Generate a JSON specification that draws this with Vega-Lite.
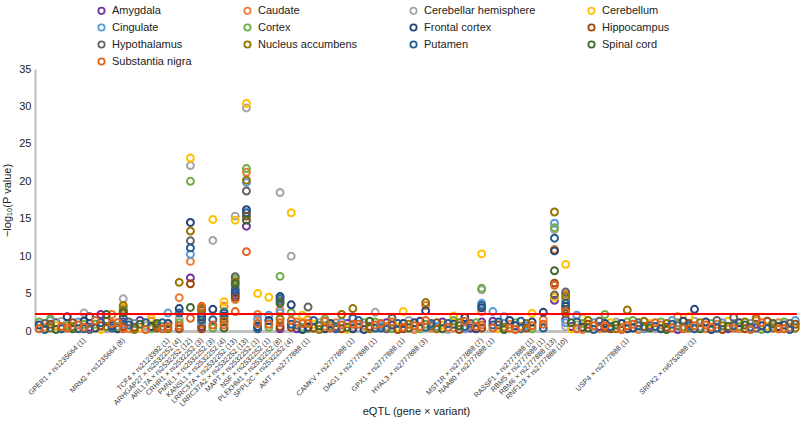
{
"$schema": "https://vega.github.io/schema/vega-lite/v6.json",
"width": 762, "height": 262,
"autosize": {"type": "none"},
"padding": {"left": 35, "top": 69, "right": 3, "bottom": 97},
"config": {"view": {"stroke": null}, "font": "Liberation Sans"},
"datasets": {
"tissues": [
{"c":"am","name":"Amygdala","k":1},{"c":"ca","name":"Caudate","k":2},{"c":"ch","name":"Cerebellar hemisphere","k":3},{"c":"ce","name":"Cerebellum","k":4},{"c":"ci","name":"Cingulate","k":5},{"c":"co","name":"Cortex","k":6},{"c":"fc","name":"Frontal cortex","k":7},{"c":"hi","name":"Hippocampus","k":8},{"c":"hy","name":"Hypothalamus","k":9},{"c":"na","name":"Nucleus accumbens","k":10},{"c":"pu","name":"Putamen","k":11},{"c":"sc","name":"Spinal cord","k":12},{"c":"sn","name":"Substantia nigra","k":13}
],
"thr": [{"v": 2.27}],
"pts": [
{"i":9,"c":"ch","v":2.4},{"i":9,"c":"fc","v":1.3},{"i":9,"c":"co","v":0.9},{"i":9,"c":"sn","v":0.5},{"i":9,"c":"pu","v":0.3},
{"i":16,"c":"ch","v":4.3},{"i":16,"c":"na","v":3.4},{"i":16,"c":"ce","v":3.2},{"i":16,"c":"ca","v":3.0},{"i":16,"c":"co","v":2.8},{"i":16,"c":"hy","v":2.65},{"i":16,"c":"fc","v":2.5},{"i":16,"c":"sc","v":2.4},{"i":16,"c":"pu","v":1.8},{"i":16,"c":"am","v":1.2},{"i":16,"c":"ci","v":0.9},{"i":16,"c":"hi","v":0.6},{"i":16,"c":"sn","v":0.3},
{"i":24,"c":"ci","v":2.4},{"i":24,"c":"fc","v":1.0},{"i":24,"c":"sn","v":0.6},{"i":24,"c":"na","v":0.3},
{"i":26,"c":"na","v":6.5},{"i":26,"c":"ca","v":4.45},{"i":26,"c":"fc","v":3.0},{"i":26,"c":"pu","v":2.4},{"i":26,"c":"ch","v":1.6},{"i":26,"c":"co","v":1.1},{"i":26,"c":"sn","v":0.7},{"i":26,"c":"hi","v":0.3},
{"i":28,"c":"ce","v":23.1},{"i":28,"c":"ch","v":22.1},{"i":28,"c":"co","v":20.0},{"i":28,"c":"fc","v":14.5},{"i":28,"c":"na","v":13.35},{"i":28,"c":"hy","v":12.05},{"i":28,"c":"pu","v":11.1},{"i":28,"c":"ci","v":10.25},{"i":28,"c":"ca","v":9.3},{"i":28,"c":"am","v":7.1},{"i":28,"c":"hi","v":6.3},{"i":28,"c":"sc","v":3.15},{"i":28,"c":"sn","v":1.7},
{"i":30,"c":"sn","v":3.3},{"i":30,"c":"na","v":3.0},{"i":30,"c":"hy","v":2.75},{"i":30,"c":"co","v":2.2},{"i":30,"c":"fc","v":1.9},{"i":30,"c":"pu","v":1.5},{"i":30,"c":"ci","v":1.2},{"i":30,"c":"ca","v":0.9},{"i":30,"c":"am","v":0.6},{"i":30,"c":"hi","v":0.3},
{"i":32,"c":"ce","v":14.9},{"i":32,"c":"ch","v":12.1},{"i":32,"c":"fc","v":2.9},{"i":32,"c":"pu","v":1.5},{"i":32,"c":"sn","v":0.8},{"i":32,"c":"co","v":0.4},
{"i":34,"c":"ce","v":3.9},{"i":34,"c":"ca","v":3.3},{"i":34,"c":"co","v":2.6},{"i":34,"c":"pu","v":2.4},{"i":34,"c":"fc","v":2.0},{"i":34,"c":"na","v":1.6},{"i":34,"c":"hi","v":1.2},{"i":34,"c":"sn","v":0.8},{"i":34,"c":"sc","v":0.4},
{"i":36,"c":"ch","v":15.35},{"i":36,"c":"ce","v":14.8},{"i":36,"c":"hy","v":7.25},{"i":36,"c":"co","v":6.95},{"i":36,"c":"na","v":6.6},{"i":36,"c":"sc","v":6.3},{"i":36,"c":"ci","v":5.9},{"i":36,"c":"pu","v":5.5},{"i":36,"c":"fc","v":5.15},{"i":36,"c":"am","v":4.8},{"i":36,"c":"hi","v":4.5},{"i":36,"c":"ca","v":4.2},{"i":36,"c":"sn","v":2.6},
{"i":38,"c":"ce","v":30.4},{"i":38,"c":"ch","v":29.8},{"i":38,"c":"co","v":21.7},{"i":38,"c":"ca","v":21.2},{"i":38,"c":"na","v":20.15},{"i":38,"c":"ci","v":19.85},{"i":38,"c":"hy","v":18.7},{"i":38,"c":"fc","v":16.2},{"i":38,"c":"pu","v":15.8},{"i":38,"c":"hi","v":15.35},{"i":38,"c":"sc","v":14.8},{"i":38,"c":"am","v":14.0},{"i":38,"c":"sn","v":10.6},
{"i":40,"c":"ce","v":5.0},{"i":40,"c":"ca","v":2.2},{"i":40,"c":"ci","v":1.6},{"i":40,"c":"sn","v":1.0},{"i":40,"c":"fc","v":0.6},{"i":40,"c":"pu","v":0.3},
{"i":42,"c":"ce","v":4.5},{"i":42,"c":"ci","v":2.1},{"i":42,"c":"fc","v":1.4},{"i":42,"c":"sn","v":0.9},{"i":42,"c":"co","v":0.5},
{"i":44,"c":"ch","v":18.5},{"i":44,"c":"co","v":7.3},{"i":44,"c":"fc","v":4.6},{"i":44,"c":"pu","v":4.3},{"i":44,"c":"hy","v":4.0},{"i":44,"c":"sc","v":3.7},{"i":44,"c":"ca","v":2.8},{"i":44,"c":"ci","v":2.45},{"i":44,"c":"na","v":1.6},{"i":44,"c":"sn","v":1.1},{"i":44,"c":"hi","v":0.6},{"i":44,"c":"am","v":0.3},
{"i":46,"c":"ce","v":15.8},{"i":46,"c":"ch","v":10.0},{"i":46,"c":"fc","v":3.5},{"i":46,"c":"co","v":2.45},{"i":46,"c":"sn","v":1.4},{"i":46,"c":"pu","v":0.9},{"i":46,"c":"hi","v":0.5},
{"i":49,"c":"hy","v":3.2},{"i":49,"c":"ca","v":1.5},{"i":49,"c":"sn","v":1.0},{"i":49,"c":"fc","v":0.5},{"i":49,"c":"co","v":0.3},
{"i":57,"c":"na","v":3.0},{"i":57,"c":"pu","v":1.7},{"i":57,"c":"sn","v":0.9},{"i":57,"c":"ch","v":0.5},{"i":57,"c":"fc","v":0.3},
{"i":61,"c":"ch","v":2.5},{"i":61,"c":"co","v":1.2},{"i":61,"c":"sn","v":0.8},{"i":61,"c":"pu","v":0.4},
{"i":66,"c":"ce","v":2.6},{"i":66,"c":"fc","v":1.0},{"i":66,"c":"sn","v":0.5},{"i":66,"c":"hi","v":0.3},
{"i":70,"c":"na","v":3.8},{"i":70,"c":"ca","v":3.4},{"i":70,"c":"fc","v":2.7},{"i":70,"c":"sn","v":1.4},{"i":70,"c":"co","v":0.9},{"i":70,"c":"pu","v":0.5},
{"i":80,"c":"ce","v":10.3},{"i":80,"c":"co","v":5.7},{"i":80,"c":"ch","v":5.5},{"i":80,"c":"ci","v":3.7},{"i":80,"c":"pu","v":3.4},{"i":80,"c":"fc","v":3.1},{"i":80,"c":"ca","v":2.6},{"i":80,"c":"am","v":1.2},{"i":80,"c":"sn","v":0.8},{"i":80,"c":"hi","v":0.4},
{"i":82,"c":"ci","v":2.6},{"i":82,"c":"am","v":1.3},{"i":82,"c":"pu","v":0.8},{"i":82,"c":"sn","v":0.4},
{"i":89,"c":"ce","v":2.35},{"i":89,"c":"fc","v":1.2},{"i":89,"c":"sn","v":0.7},{"i":89,"c":"co","v":0.3},
{"i":91,"c":"fc","v":2.5},{"i":91,"c":"ca","v":1.5},{"i":91,"c":"sn","v":0.9},{"i":91,"c":"pu","v":0.4},
{"i":93,"c":"na","v":15.9},{"i":93,"c":"ci","v":14.4},{"i":93,"c":"co","v":13.8},{"i":93,"c":"ch","v":13.55},{"i":93,"c":"pu","v":12.4},{"i":93,"c":"ca","v":10.9},{"i":93,"c":"fc","v":10.7},{"i":93,"c":"sc","v":8.05},{"i":93,"c":"hi","v":6.4},{"i":93,"c":"sn","v":6.1},{"i":93,"c":"hy","v":4.8},{"i":93,"c":"ce","v":4.5},{"i":93,"c":"am","v":4.1},
{"i":95,"c":"ce","v":8.9},{"i":95,"c":"hy","v":5.2},{"i":95,"c":"ca","v":4.9},{"i":95,"c":"na","v":4.6},{"i":95,"c":"co","v":4.2},{"i":95,"c":"pu","v":3.7},{"i":95,"c":"fc","v":3.3},{"i":95,"c":"hi","v":2.9},{"i":95,"c":"sn","v":2.5},{"i":95,"c":"sc","v":2.35},{"i":95,"c":"am","v":1.5},{"i":95,"c":"ci","v":1.1},{"i":95,"c":"ch","v":0.6},
{"i":106,"c":"na","v":2.8},{"i":106,"c":"co","v":1.2},{"i":106,"c":"sn","v":0.7},{"i":106,"c":"fc","v":0.3},
{"i":118,"c":"fc","v":2.9},{"i":118,"c":"ch","v":1.3},{"i":118,"c":"sn","v":0.7},{"i":118,"c":"pu","v":0.3},
{"i":1,"c":"sn","v":0.3},{"i":1,"c":"fc","v":0.8},{"i":1,"c":"co","v":1.2},
{"i":2,"c":"ca","v":0.5},{"i":2,"c":"pu","v":0.2},{"i":2,"c":"hy","v":1.0},
{"i":3,"c":"hi","v":0.9},{"i":3,"c":"na","v":0.4},{"i":3,"c":"ci","v":1.4},{"i":3,"c":"co","v":1.6},
{"i":4,"c":"sc","v":0.2},{"i":4,"c":"ce","v":0.7},{"i":4,"c":"am","v":1.1},
{"i":5,"c":"sn","v":0.6},{"i":5,"c":"ch","v":1.3},{"i":5,"c":"pu","v":0.3},
{"i":6,"c":"sn","v":0.4},{"i":6,"c":"ca","v":1.0},{"i":6,"c":"co","v":0.7},{"i":6,"c":"fc","v":1.9},
{"i":7,"c":"hi","v":1.1},{"i":7,"c":"sc","v":0.3},{"i":7,"c":"na","v":0.6},
{"i":8,"c":"pu","v":0.3},{"i":8,"c":"sn","v":0.8},{"i":8,"c":"ci","v":1.2},
{"i":10,"c":"am","v":0.5},{"i":10,"c":"hy","v":0.2},{"i":10,"c":"ca","v":1.0},{"i":10,"c":"fc","v":1.9},
{"i":11,"c":"co","v":0.9},{"i":11,"c":"fc","v":0.4},{"i":11,"c":"sn","v":1.4},
{"i":12,"c":"ce","v":0.2},{"i":12,"c":"hi","v":0.7},{"i":12,"c":"pu","v":1.1},{"i":12,"c":"am","v":2.2},
{"i":13,"c":"na","v":0.6},{"i":13,"c":"hi","v":1.3},{"i":13,"c":"ch","v":0.3},{"i":13,"c":"sc","v":2.2},
{"i":14,"c":"pu","v":0.4},{"i":14,"c":"sn","v":1.0},{"i":14,"c":"fc","v":0.7},{"i":14,"c":"ca","v":2.2},
{"i":15,"c":"sn","v":1.1},{"i":15,"c":"fc","v":0.3},{"i":15,"c":"co","v":0.6},
{"i":17,"c":"ca","v":0.3},{"i":17,"c":"pu","v":0.8},{"i":17,"c":"hy","v":1.2},
{"i":18,"c":"hi","v":0.5},{"i":18,"c":"na","v":0.2},{"i":18,"c":"ci","v":1.0},
{"i":19,"c":"sc","v":0.9},{"i":19,"c":"ce","v":0.4},{"i":19,"c":"am","v":1.4},
{"i":20,"c":"sn","v":0.2},{"i":20,"c":"ch","v":0.7},{"i":20,"c":"pu","v":1.1},
{"i":21,"c":"fc","v":0.6},{"i":21,"c":"ca","v":1.3},{"i":21,"c":"co","v":0.3},{"i":21,"c":"ce","v":1.7},
{"i":22,"c":"hi","v":0.4},{"i":22,"c":"sc","v":1.0},{"i":22,"c":"na","v":0.7},
{"i":23,"c":"pu","v":1.1},{"i":23,"c":"sn","v":0.3},{"i":23,"c":"ci","v":0.6},
{"i":47,"c":"am","v":0.3},{"i":47,"c":"hy","v":0.8},{"i":47,"c":"ca","v":1.2},
{"i":48,"c":"co","v":0.5},{"i":48,"c":"fc","v":0.2},{"i":48,"c":"sn","v":1.0},{"i":48,"c":"ce","v":2.1},
{"i":50,"c":"ce","v":0.9},{"i":50,"c":"hi","v":0.4},{"i":50,"c":"pu","v":1.4},
{"i":51,"c":"na","v":0.2},{"i":51,"c":"sc","v":0.7},{"i":51,"c":"ch","v":1.1},
{"i":52,"c":"ca","v":0.6},{"i":52,"c":"sn","v":1.3},{"i":52,"c":"fc","v":0.3},{"i":52,"c":"co","v":1.6},
{"i":53,"c":"sn","v":0.4},{"i":53,"c":"fc","v":1.0},{"i":53,"c":"co","v":0.7},
{"i":54,"c":"ca","v":1.1},{"i":54,"c":"pu","v":0.3},{"i":54,"c":"hy","v":0.6},
{"i":55,"c":"hi","v":0.3},{"i":55,"c":"sn","v":0.8},{"i":55,"c":"ci","v":1.2},{"i":55,"c":"na","v":2.2},
{"i":56,"c":"sc","v":0.5},{"i":56,"c":"ce","v":0.2},{"i":56,"c":"am","v":1.0},
{"i":58,"c":"sn","v":0.9},{"i":58,"c":"ch","v":0.4},{"i":58,"c":"pu","v":1.4},
{"i":59,"c":"fc","v":0.2},{"i":59,"c":"ca","v":0.7},{"i":59,"c":"co","v":1.1},
{"i":60,"c":"hi","v":0.6},{"i":60,"c":"sc","v":1.3},{"i":60,"c":"na","v":0.3},
{"i":62,"c":"pu","v":0.4},{"i":62,"c":"sn","v":1.0},{"i":62,"c":"ci","v":0.7},
{"i":63,"c":"am","v":1.1},{"i":63,"c":"hy","v":0.3},{"i":63,"c":"ca","v":0.6},
{"i":64,"c":"co","v":0.3},{"i":64,"c":"fc","v":0.8},{"i":64,"c":"sn","v":1.2},{"i":64,"c":"hy","v":1.7},
{"i":65,"c":"ce","v":0.5},{"i":65,"c":"hi","v":0.2},{"i":65,"c":"pu","v":1.0},
{"i":67,"c":"na","v":0.9},{"i":67,"c":"sc","v":0.4},{"i":67,"c":"ch","v":1.4},
{"i":68,"c":"ca","v":0.2},{"i":68,"c":"sn","v":0.7},{"i":68,"c":"fc","v":1.1},
{"i":69,"c":"sn","v":0.6},{"i":69,"c":"fc","v":1.3},{"i":69,"c":"co","v":0.3},
{"i":71,"c":"ca","v":0.4},{"i":71,"c":"pu","v":1.0},{"i":71,"c":"hy","v":0.7},
{"i":72,"c":"hi","v":1.1},{"i":72,"c":"na","v":0.3},{"i":72,"c":"ci","v":0.6},
{"i":73,"c":"sc","v":0.3},{"i":73,"c":"ce","v":0.8},{"i":73,"c":"am","v":1.2},
{"i":74,"c":"sn","v":0.5},{"i":74,"c":"ch","v":0.2},{"i":74,"c":"pu","v":1.0},
{"i":75,"c":"fc","v":0.9},{"i":75,"c":"ca","v":0.4},{"i":75,"c":"co","v":1.4},{"i":75,"c":"ce","v":2.0},
{"i":76,"c":"hi","v":0.2},{"i":76,"c":"sc","v":0.7},{"i":76,"c":"na","v":1.1},
{"i":77,"c":"pu","v":0.6},{"i":77,"c":"sn","v":1.3},{"i":77,"c":"ci","v":0.3},{"i":77,"c":"fc","v":1.8},
{"i":78,"c":"am","v":0.4},{"i":78,"c":"hy","v":1.0},{"i":78,"c":"ca","v":0.7},
{"i":79,"c":"co","v":1.1},{"i":79,"c":"fc","v":0.3},{"i":79,"c":"sn","v":0.6},
{"i":83,"c":"ce","v":0.3},{"i":83,"c":"hi","v":0.8},{"i":83,"c":"pu","v":1.2},
{"i":84,"c":"na","v":0.5},{"i":84,"c":"sc","v":0.2},{"i":84,"c":"ch","v":1.0},{"i":84,"c":"ci","v":1.9},
{"i":85,"c":"ca","v":0.9},{"i":85,"c":"sn","v":0.4},{"i":85,"c":"fc","v":1.4},
{"i":86,"c":"sn","v":0.2},{"i":86,"c":"fc","v":0.7},{"i":86,"c":"co","v":1.1},
{"i":87,"c":"ca","v":0.6},{"i":87,"c":"pu","v":1.3},{"i":87,"c":"hy","v":0.3},
{"i":88,"c":"hi","v":0.4},{"i":88,"c":"na","v":1.0},{"i":88,"c":"ci","v":0.7},
{"i":96,"c":"sc","v":1.1},{"i":96,"c":"ce","v":0.3},{"i":96,"c":"am","v":0.6},
{"i":97,"c":"sn","v":0.3},{"i":97,"c":"ch","v":0.8},{"i":97,"c":"pu","v":1.2},{"i":97,"c":"ci","v":2.1},
{"i":98,"c":"fc","v":0.5},{"i":98,"c":"ca","v":0.2},{"i":98,"c":"co","v":1.0},{"i":98,"c":"ce","v":1.7},
{"i":99,"c":"hi","v":0.9},{"i":99,"c":"sc","v":0.4},{"i":99,"c":"na","v":1.4},
{"i":100,"c":"pu","v":0.2},{"i":100,"c":"sn","v":0.7},{"i":100,"c":"ci","v":1.1},
{"i":101,"c":"am","v":0.6},{"i":101,"c":"hy","v":1.3},{"i":101,"c":"ca","v":0.3},
{"i":102,"c":"hi","v":0.4},{"i":102,"c":"fc","v":1.0},{"i":102,"c":"sn","v":0.7},{"i":102,"c":"co","v":2.2},
{"i":103,"c":"ce","v":1.1},{"i":103,"c":"hi","v":0.3},{"i":103,"c":"pu","v":0.6},
{"i":104,"c":"na","v":0.3},{"i":104,"c":"sc","v":0.8},{"i":104,"c":"ch","v":1.2},
{"i":105,"c":"ca","v":0.5},{"i":105,"c":"sn","v":0.2},{"i":105,"c":"fc","v":1.0},
{"i":107,"c":"sn","v":0.9},{"i":107,"c":"fc","v":0.4},{"i":107,"c":"co","v":1.4},
{"i":108,"c":"ca","v":0.2},{"i":108,"c":"pu","v":0.7},{"i":108,"c":"hy","v":1.1},
{"i":109,"c":"hi","v":0.6},{"i":109,"c":"na","v":1.3},{"i":109,"c":"ci","v":0.3},
{"i":110,"c":"sc","v":0.4},{"i":110,"c":"ce","v":1.0},{"i":110,"c":"am","v":0.7},
{"i":111,"c":"sn","v":1.1},{"i":111,"c":"ch","v":0.3},{"i":111,"c":"pu","v":0.6},
{"i":112,"c":"fc","v":0.3},{"i":112,"c":"ca","v":0.8},{"i":112,"c":"co","v":1.2},
{"i":113,"c":"hi","v":0.5},{"i":113,"c":"sc","v":0.2},{"i":113,"c":"na","v":1.0},
{"i":114,"c":"pu","v":0.9},{"i":114,"c":"sn","v":0.4},{"i":114,"c":"ci","v":1.4},
{"i":115,"c":"am","v":0.2},{"i":115,"c":"hy","v":0.7},{"i":115,"c":"co","v":1.1},{"i":115,"c":"ca","v":1.9},
{"i":116,"c":"co","v":0.6},{"i":116,"c":"fc","v":1.3},{"i":116,"c":"sn","v":0.3},
{"i":117,"c":"na","v":0.4},{"i":117,"c":"hi","v":1.0},{"i":117,"c":"pu","v":0.7},{"i":117,"c":"ce","v":1.9},
{"i":119,"c":"na","v":1.1},{"i":119,"c":"sc","v":0.3},{"i":119,"c":"ch","v":0.6},
{"i":120,"c":"ca","v":0.3},{"i":120,"c":"sn","v":0.8},{"i":120,"c":"fc","v":1.2},
{"i":121,"c":"sn","v":0.5},{"i":121,"c":"fc","v":0.2},{"i":121,"c":"co","v":1.0},
{"i":122,"c":"ca","v":0.9},{"i":122,"c":"pu","v":0.4},{"i":122,"c":"hy","v":1.4},
{"i":123,"c":"hi","v":0.2},{"i":123,"c":"na","v":0.7},{"i":123,"c":"ci","v":1.1},
{"i":124,"c":"sc","v":0.6},{"i":124,"c":"ce","v":1.3},{"i":124,"c":"am","v":0.3},
{"i":125,"c":"sn","v":0.4},{"i":125,"c":"ch","v":1.0},{"i":125,"c":"pu","v":0.7},{"i":125,"c":"hy","v":1.8},
{"i":126,"c":"fc","v":1.1},{"i":126,"c":"ca","v":0.3},{"i":126,"c":"co","v":0.6},
{"i":127,"c":"hi","v":0.3},{"i":127,"c":"sc","v":0.8},{"i":127,"c":"na","v":1.2},
{"i":128,"c":"pu","v":0.5},{"i":128,"c":"sn","v":0.2},{"i":128,"c":"ci","v":1.0},
{"i":129,"c":"am","v":0.9},{"i":129,"c":"hy","v":0.4},{"i":129,"c":"ca","v":1.4},{"i":129,"c":"na","v":1.7},
{"i":130,"c":"co","v":0.2},{"i":130,"c":"fc","v":0.7},{"i":130,"c":"sn","v":1.1},
{"i":131,"c":"ce","v":0.6},{"i":131,"c":"hi","v":1.3},{"i":131,"c":"pu","v":0.3},
{"i":132,"c":"na","v":0.4},{"i":132,"c":"sc","v":1.0},{"i":132,"c":"ch","v":0.7},
{"i":133,"c":"ca","v":1.1},{"i":133,"c":"sn","v":0.3},{"i":133,"c":"fc","v":0.6},
{"i":134,"c":"sn","v":0.3},{"i":134,"c":"fc","v":0.8},{"i":134,"c":"co","v":1.2},
{"i":135,"c":"ca","v":0.5},{"i":135,"c":"pu","v":0.2},{"i":135,"c":"hy","v":1.0},
{"i":136,"c":"hi","v":0.9},{"i":136,"c":"na","v":0.4},{"i":136,"c":"ci","v":1.4}
]
},
"encoding": {
"y": {"field": "v", "type": "quantitative", "scale": {"domain": [0, 35], "nice": false, "zero": true},
"axis": {"title": "−log₁₀(P value)", "values": [0,5,10,15,20,25,30,35], "tickCount": 8, "ticks": false, "grid": false, "domainColor": "#c0c0c0", "domainWidth": 2,
"labelFontSize": 11, "labelColor": "#222222", "labelPadding": 4, "labelOverlap": false, "labelBound": false, "labelFlush": false, "titleFontSize": 11, "titleFontWeight": "normal", "titleColor": "#222222", "titlePadding": 6}}
},
"layer": [
{
"data": {"name": "pts"},
"transform": [{"lookup": "c", "from": {"data": {"name": "tissues"}, "key": "c", "fields": ["name", "k"]}}],
"mark": {"type": "point", "filled": false, "size": 48, "strokeWidth": 2, "opacity": 1},
"encoding": {
"x": {"field": "i", "type": "quantitative", "scale": {"domain": [0.25, 136.3], "nice": false, "zero": false},
"axis": {"title": "eQTL (gene × variant)", "values": [9,16,24,26,28,30,32,34,36,38,40,42,44,46,49,57,61,66,70,80,82,89,91,93,95,106,118],
"labelExpr": "datum.value==9?'GPER1 × rs1235664 (1)':datum.value==16?'MRM2 × rs1235664 (8)':datum.value==24?'TCF4 × rs2123392 (1)':datum.value==26?'ARHGAP27 × rs2532252 (4)':datum.value==28?'ARL17A × rs2532252 (12)':datum.value==30?'CRHR1 × rs2532252 (3)':datum.value==32?'FMNL1 × rs2532252 (3)':datum.value==34?'KANSL1 × rs2532252 (4)':datum.value==36?'LRRC37A × rs2532252 (13)':datum.value==38?'LRRC37A2 × rs2532252 (13)':datum.value==40?'MAPT × rs2532252 (1)':datum.value==42?'NSF × rs2532252 (1)':datum.value==44?'PLEKHM1 × rs2532252 (8)':datum.value==46?'SPPL2C × rs2532252 (4)':datum.value==49?'AMT × rs2777888 (1)':datum.value==57?'CAMKV × rs2777888 (1)':datum.value==61?'DAG1 × rs2777888 (1)':datum.value==66?'GPX1 × rs2777888 (1)':datum.value==70?'HYAL3 × rs2777888 (3)':datum.value==80?'MST1R × rs2777888 (7)':datum.value==82?'NAA80 × rs2777888 (1)':datum.value==89?'RASSF1 × rs2777888 (1)':datum.value==91?'RBM5 × rs2777888 (1)':datum.value==93?'RBM6 × rs2777888 (13)':datum.value==95?'RNF123 × rs2777888 (10)':datum.value==106?'USP4 × rs2777888 (1)':datum.value==118?'SRPK2 × rs6752088 (1)':''",
"labelAngle": -45, "labelAlign": "right", "labelBaseline": "middle", "labelFontSize": 7.2, "labelColor": "#333333", "labelPadding": 8, "labelOverlap": false, "labelBound": false, "labelFlush": false,
"ticks": false, "grid": false, "domainColor": "#c0c0c0", "domainWidth": 3,
"titleFontSize": 11, "titleFontWeight": "normal", "titleColor": "#222222", "titleY": 74, "titleBaseline": "top"}},
"color": {"field": "name", "type": "nominal",
"scale": {"domain": ["Amygdala","Caudate","Cerebellar hemisphere","Cerebellum","Cingulate","Cortex","Frontal cortex","Hippocampus","Hypothalamus","Nucleus accumbens","Putamen","Spinal cord","Substantia nigra"],
"range": ["#7030A0","#ED7D31","#A5A5A5","#FFC000","#5B9BD5","#70AD47","#264478","#9E480E","#636363","#997300","#255E91","#43682B","#E0641E"]},
"legend": {"title": null, "orient": "none", "legendX": 61, "legendY": -64, "columns": 4, "direction": "horizontal", "columnPadding": 48, "rowPadding": 2, "labelFontSize": 11, "labelColor": "#222222", "labelOffset": 5, "symbolType": "circle", "symbolSize": 40, "symbolStrokeWidth": 1.8, "padding": 0}},
"order": {"field": "k", "type": "quantitative"}
}
},
{
"data": {"name": "thr"},
"mark": {"type": "rule", "color": "#ff0000", "strokeWidth": 2}
}
]
}
